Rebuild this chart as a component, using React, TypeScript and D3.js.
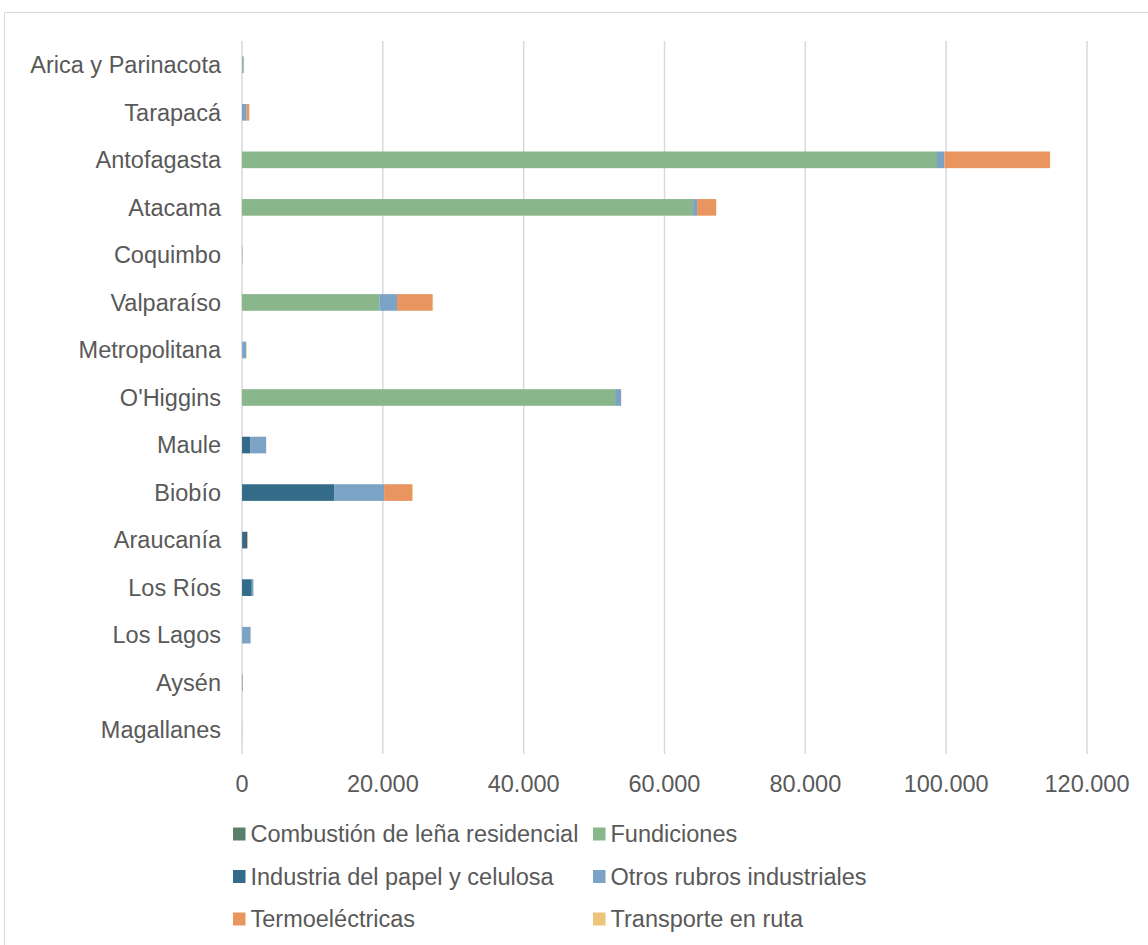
import React from "react";
import * as d3 from "d3";

const categories = [
  "Arica y Parinacota", "Tarapacá", "Antofagasta", "Atacama", "Coquimbo",
  "Valparaíso", "Metropolitana", "O'Higgins", "Maule", "Biobío",
  "Araucanía", "Los Ríos", "Los Lagos", "Aysén", "Magallanes",
];

const seriesNames = [
  "Combustión de leña residencial", "Fundiciones", "Industria del papel y celulosa",
  "Otros rubros industriales", "Termoeléctricas", "Transporte en ruta",
];

const lena = [0, 0, 0, 0, 0, 0, 20, 0, 10, 10, 20, 10, 20, 60, 10];
const fundiciones = [100, 0, 98700, 64060, 0, 19500, 0, 52980, 0, 0, 0, 0, 0, 0, 0];
const papel = [0, 0, 0, 0, 0, 0, 0, 0, 1140, 13070, 710, 1380, 0, 0, 0];
const otros = [150, 640, 1040, 570, 60, 2510, 560, 850, 2270, 7100, 0, 230, 1200, 40, 0];
const termo = [0, 380, 15000, 2700, 0, 5070, 0, 0, 0, 4020, 90, 0, 0, 0, 0];
const transporte = [50, 20, 30, 30, 40, 60, 80, 40, 30, 40, 20, 10, 20, 20, 10];

const xTicks = [0, 20000, 40000, 60000, 80000, 100000, 120000];
const colors = ["#5b806a", "#8ab68b", "#346b89", "#7ba3c5", "#e8955f", "#ecc57a"];

const W = 1148, H = 945;
const FONT = "'Liberation Sans', Arial, sans-serif";
const FS = 23.5;
const TEXT = "#595959";

export default function App() {
  const x = d3.scaleLinear().domain([0, 120000]).range([242, 1087]);
  const y = d3.scaleBand().domain(categories).range([41, 754]).paddingInner(0.65).paddingOuter(0.325);

  const table = categories.map((c, i) => ({
    cat: c, s0: lena[i], s1: fundiciones[i], s2: papel[i], s3: otros[i], s4: termo[i], s5: transporte[i],
  }));
  const stack = d3.stack<any>().keys(["s0", "s1", "s2", "s3", "s4", "s5"])(table);

  const fmt = (v: number) => d3.format(",")(v).replace(/,/g, ".");

  const legend = [
    { i: 0, lx: 233, ly: 834 }, { i: 1, lx: 593, ly: 834 },
    { i: 2, lx: 233, ly: 876.5 }, { i: 3, lx: 593, ly: 876.5 },
    { i: 4, lx: 233, ly: 919 }, { i: 5, lx: 593, ly: 919 },
  ];

  return (
    <div style={{ position: "absolute", left: 0, top: 0 }}>
      <svg width={W} height={H} style={{ display: "block", background: "#fff" }}>
        <path d={`M4.5,${H} V12.5 H${W}`} fill="none" stroke="#d9d9d9" strokeWidth={1} />
        {xTicks.map((t) => (
          <g key={t}>
            <line x1={x(t)} x2={x(t)} y1={41} y2={754} stroke="#d9d9d9" strokeWidth={1.5} />
            <text x={x(t)} y={784} dy="0.35em" textAnchor="middle" fontFamily={FONT} fontSize={FS} fill={TEXT}>
              {fmt(t)}
            </text>
          </g>
        ))}
        {stack.map((layer, si) => (
          <g key={si} fill={colors[si]}>
            {layer.map((d, ci) => {
              const w = x(d[1]) - x(d[0]);
              if (w <= 0) return null;
              return (
                <rect key={ci} x={x(d[0])} y={y(categories[ci])!} width={w} height={y.bandwidth()} />
              );
            })}
          </g>
        ))}
        {categories.map((c) => (
          <text key={c} x={221} y={y(c)! + y.bandwidth() / 2} dy="0.35em" textAnchor="end"
            fontFamily={FONT} fontSize={FS} fill={TEXT}>
            {c}
          </text>
        ))}
        {legend.map(({ i, lx, ly }) => (
          <g key={i}>
            <rect x={lx} y={ly - 6.5} width={12.5} height={13} fill={colors[i]} />
            <text x={lx + 17.5} y={ly} dy="0.35em" fontFamily={FONT} fontSize={FS} fill={TEXT}>
              {seriesNames[i]}
            </text>
          </g>
        ))}
      </svg>
    </div>
  );
}
